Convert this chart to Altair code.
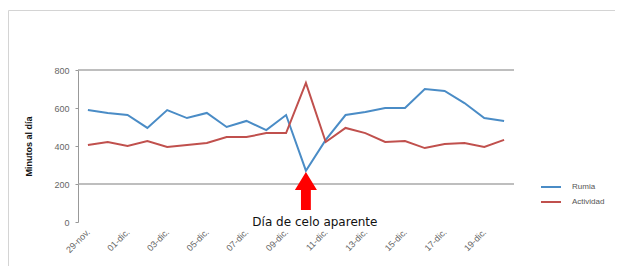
import altair as alt
import pandas as pd

dates = ["29-nov.", "30-nov.", "01-dic.", "02-dic.", "03-dic.", "04-dic.", "05-dic.",
         "06-dic.", "07-dic.", "08-dic.", "09-dic.", "10-dic.", "11-dic.", "12-dic.",
         "13-dic.", "14-dic.", "15-dic.", "16-dic.", "17-dic.", "18-dic.", "19-dic.", "20-dic."]
rumia = [589, 574, 563, 495, 589, 547, 574, 500, 532, 484, 563, 270,
         432, 563, 579, 600, 600, 700, 690, 626, 547, 532]
actividad = [405, 421, 400, 426, 395, 405, 416, 447, 447, 468, 468, 732,
             421, 495, 468, 421, 426, 389, 410, 416, 395, 432]
label_dates = dates[::2]
y_ticks = [0, 200, 400, 600, 800]
gridvals = [200, 800]
series_names = ["Rumia", "Actividad"]
series_colors = ["#4A8CC6", "#C0504D"]
event_date = dates[11]
event_text = "Día de celo aparente"
y_title = "Minutos al día"

df = pd.DataFrame({
    "fecha": dates * 2,
    "serie": [series_names[0]] * len(dates) + [series_names[1]] * len(dates),
    "valor": rumia + actividad,
})

x_enc = alt.X("fecha:N", sort=dates, scale=alt.Scale(type="point", padding=0.5),
              axis=alt.Axis(values=label_dates, labelAngle=-45, labelAlign="right",
                            labelBaseline="middle", labelPadding=8, ticks=False,
                            domain=False, labelFontSize=9, labelColor="#666666",
                            labelOverlap=False, title=None))

y_scale = alt.Scale(domain=[0, 800])
y_axis = alt.Axis(values=y_ticks, grid=False, title=y_title, titleX=-45,
                  titleY=76, titleFontSize=9, titleFontWeight="bold",
                  titleColor="#111111", labelFontSize=9, labelColor="#666666",
                  labelPadding=6, tickSize=3, tickColor="#999999",
                  domainColor="#999999", labelOverlap=False)

border = alt.Chart(pd.DataFrame({"a": [0]})).mark_rect(
    fillOpacity=0, stroke="#d4d4d4", strokeWidth=1
).encode(x=alt.value(-69.5), x2=alt.value(640), y=alt.value(-59.5), y2=alt.value(300))

grid = alt.Chart(pd.DataFrame({"valor": gridvals})).mark_rule(
    color="#a8a8a8", strokeWidth=1.5
).encode(y=alt.Y("valor:Q", scale=y_scale, axis=y_axis, title=y_title))

lines = alt.Chart(df).mark_line(strokeWidth=2).encode(
    x=x_enc,
    y=alt.Y("valor:Q", scale=y_scale, axis=y_axis, title=y_title),
    color=alt.Color("serie:N", sort=series_names,
                    scale=alt.Scale(domain=series_names, range=series_colors),
                    legend=alt.Legend(title=None, orient="none", legendX=462, legendY=106,
                                      symbolType="stroke", symbolStrokeWidth=2,
                                      symbolSize=400, labelFontSize=8,
                                      labelColor="#555555", rowPadding=0, labelOffset=10)),
)

arrow_path = "M0,-1 L0.58,-0.05 L0.26,-0.05 L0.26,1 L-0.26,1 L-0.26,-0.05 L-0.58,-0.05 Z"
ev = pd.DataFrame({"fecha": [event_date]})
arrow = alt.Chart(ev).mark_point(
    shape=arrow_path, filled=True, color="#FF0000", size=1444, opacity=1
).encode(x=alt.X("fecha:N", sort=dates), y=alt.value(121))

label = alt.Chart(ev).mark_text(
    text=event_text, dx=9, fontSize=12, font="DejaVu Sans", color="#111111",
    baseline="middle"
).encode(x=alt.X("fecha:N", sort=dates), y=alt.value(152))

chart = alt.layer(border, grid, lines, arrow, label).properties(
    width=436, height=152,
    padding={"left": 70, "top": 62, "right": 101, "bottom": 44},
    autosize=alt.AutoSizeParams(type="none"),
).configure(font="Liberation Sans").configure_view(stroke=None)

chart.save("out.html", embed_options={"renderer": "svg", "actions": False})
